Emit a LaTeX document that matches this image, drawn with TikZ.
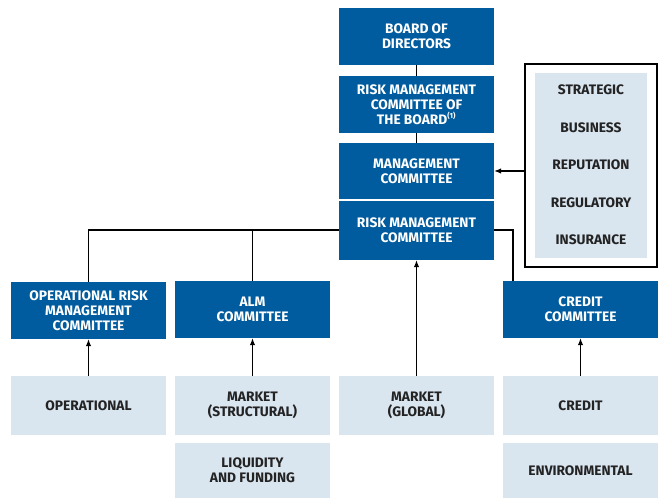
\documentclass[tikz,border=0pt]{standalone}
\usepackage{fontspec}
\setmainfont{Fira Sans}
\usetikzlibrary{arrows.meta}
\definecolor{dblue}{RGB}{0,92,158}
\definecolor{lblue}{RGB}{217,229,239}
\definecolor{dtext}{RGB}{35,35,35}
\begin{document}
\begin{tikzpicture}[x=1bp,y=-1bp,
  base/.style={rectangle,inner sep=0pt,align=center,font=\fontsize{13.8}{14.8}\selectfont\bfseries,minimum width=155bp},
  bluebox/.style={base,fill=dblue,text=white},
  lightbox/.style={base,fill=lblue,text=dtext},
  conn/.style={line width=1.1bp,draw=black},
  arr/.style={conn,-{Latex[length=7bp,width=5.5bp]}},
  risk/.style={font=\fontsize{13.8}{14.8}\selectfont\bfseries,text=dtext,inner sep=0pt}]
\useasboundingbox (0,0) rectangle (658,498);
% top column
\node[bluebox,minimum height=57bp] (bod) at (416.5,36.5) {BOARD OF\\DIRECTORS};
\node[bluebox,minimum height=57bp] (rmcb) at (416.5,104.5) {RISK MANAGEMENT\\COMMITTEE OF\\THE BOARD\textsuperscript{\fontsize{7.5}{7.5}\selectfont(1)}};
\node[bluebox,minimum height=56bp] (mc) at (416.5,171) {MANAGEMENT\\COMMITTEE};
\node[bluebox,minimum height=59bp] (rmc) at (416.5,230.5) {RISK MANAGEMENT\\COMMITTEE};
% committees
\node[bluebox,minimum height=57bp] (orm) at (88.5,310.5) {OPERATIONAL RISK\\MANAGEMENT\\COMMITTEE};
\node[bluebox,minimum height=57bp] (alm) at (252.5,309.5) {ALM\\COMMITTEE};
\node[bluebox,minimum height=57bp] (crc) at (580.5,309.5) {CREDIT\\COMMITTEE};
% risk types
\node[lightbox,minimum height=59bp] (op) at (88.5,405.5) {OPERATIONAL};
\node[lightbox,minimum height=59bp] (ms) at (252.5,405.5) {MARKET\\(STRUCTURAL)};
\node[lightbox,minimum height=59bp] (mg) at (416.5,405.5) {MARKET\\(GLOBAL)};
\node[lightbox,minimum height=59bp] (cr) at (580.5,405.5) {CREDIT};
\node[lightbox,minimum height=55bp] (lf) at (252.5,470.5) {LIQUIDITY\\AND FUNDING};
\node[lightbox,minimum height=55bp] (env) at (580.5,470.5) {ENVIRONMENTAL};
% right panel
\node[draw=black,line width=1.1bp,fill=white,minimum width=132bp,minimum height=203bp,inner sep=0pt] (outer) at (591,165.5) {};
\node[fill=lblue,minimum width=112bp,minimum height=185bp,inner sep=0pt] (inner) at (591,165.5) {};
\node[risk] (s1) at (591,90) {STRATEGIC};
\node[risk] (s2) at (591,127.5) {BUSINESS};
\node[risk] (s3) at (591,165) {REPUTATION};
\node[risk] (s4) at (591,203) {REGULATORY};
\node[risk] (s5) at (591,240) {INSURANCE};
% connectors
\coordinate (h) at (0,230);
\draw[conn] (bod.south) -- (rmcb.north);
\draw[conn] (rmcb.south) -- (mc.north);
\draw[conn] (rmc.west |- h) -| (orm.north);
\draw[conn] (alm.north) -- (alm.north |- h);
\draw[conn] (rmc.east |- h) -- (513,230) -- (513,281);
\draw[arr] (outer.west |- mc.east) -- (mc.east);
\draw[arr] (op.north) -- (orm.south);
\draw[arr] (ms.north) -- (alm.south);
\draw[arr] (mg.north) -- (rmc.south);
\draw[arr] (cr.north) -- (crc.south);
\end{tikzpicture}
\end{document}
